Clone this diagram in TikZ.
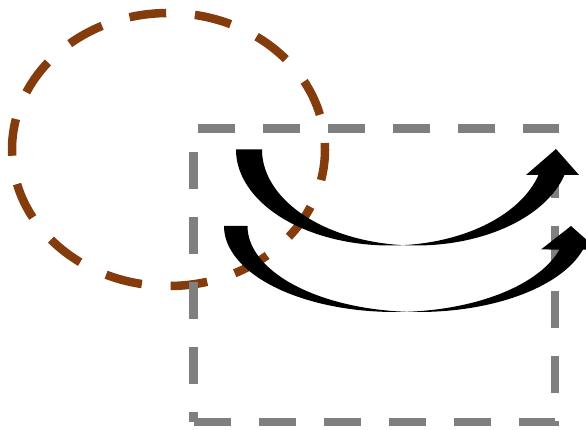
\documentclass[tikz,border=0pt]{standalone}
\definecolor{ringbrown}{HTML}{843C0C}
\definecolor{boxgray}{HTML}{7F7F7F}
\tikzset{
  ringline/.style={draw=ringbrown, line width=8.5pt, dash pattern=on 37pt off 28.8pt, dash phase=30.5pt},
  boxline/.style={draw=boxgray, line width=8.7pt, line join=miter, dash pattern=on 36.7pt off 28.3pt, dash phase=26.7pt},
  bentarrow/.style={fill=black, draw=none}
}
\begin{document}
\begin{tikzpicture}[x=1pt,y=-1pt]
\clip (0,0) rectangle (586,430);
% dashed brown ellipse
\draw[ringline] (325,149.5) arc[start angle=0,end angle=360,x radius=156.5pt,y radius=136.5pt];
% dashed gray rectangle
\draw[boxline] (193.5,422) -- (193.5,128.3) -- (555,128.3) -- (555,422) -- (193.5,422);
% upper curved arrow
\fill[bentarrow] (236,149.5)
  -- plot[domain=180:85.16,samples=60] ({390+154*cos(\x)},{149.5+96*sin(\x)})
  -- plot[domain=94.84:15.4,samples=60] ({416+154*cos(\x)},{149.5+96*sin(\x)})
  -- (579,175) -- (556,149) -- (526,175)
  -- plot[domain=15.4:85.16,samples=60] ({390+154*cos(\x)},{149.5+96*sin(\x)})
  -- plot[domain=94.84:180,samples=60] ({416+154*cos(\x)},{149.5+96*sin(\x)})
  -- cycle;
% lower curved arrow
\fill[bentarrow] (224,226)
  -- plot[domain=180:86.06,samples=60] ({395+171*cos(\x)},{226+86*sin(\x)})
  -- plot[domain=93.94:15.86,samples=60] ({418.5+171*cos(\x)},{226+86*sin(\x)})
  -- (597.5,249.5) -- (571,226) -- (541,249.5)
  -- plot[domain=15.86:86.06,samples=60] ({395+171*cos(\x)},{226+86*sin(\x)})
  -- plot[domain=93.94:180,samples=60] ({418.5+171*cos(\x)},{226+86*sin(\x)})
  -- cycle;
\end{tikzpicture}
\end{document}
